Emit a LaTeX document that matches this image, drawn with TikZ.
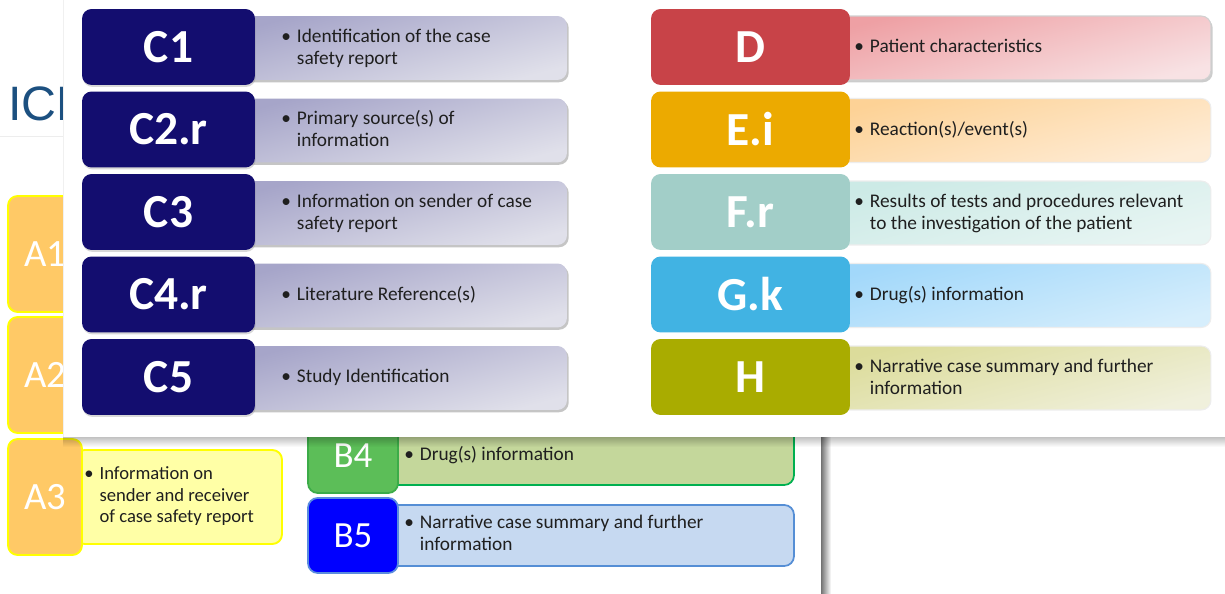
\documentclass[tikz,border=0pt]{standalone}
\usepackage{fontspec}
\setmainfont{Carlito}
\newfontfamily\ichfont{Liberation Sans}
\usetikzlibrary{shadows}

\definecolor{ichblue}{RGB}{28,80,128}
\definecolor{navy}{RGB}{19,13,111}
\definecolor{cbartop}{RGB}{166,165,201}
\definecolor{cbarbot}{RGB}{224,224,234}
\definecolor{dred}{RGB}{200,67,72}
\definecolor{dbartop}{RGB}{238,160,164}
\definecolor{dbarbot}{RGB}{248,226,228}
\definecolor{eorange}{RGB}{236,170,0}
\definecolor{ebartop}{RGB}{253,210,150}
\definecolor{ebarbot}{RGB}{254,236,214}
\definecolor{fteal}{RGB}{162,206,200}
\definecolor{fbartop}{RGB}{204,234,230}
\definecolor{fbarbot}{RGB}{232,245,243}
\definecolor{gblue}{RGB}{65,179,227}
\definecolor{gbartop}{RGB}{162,216,250}
\definecolor{gbarbot}{RGB}{214,238,252}
\definecolor{holive}{RGB}{169,172,0}
\definecolor{hbartop}{RGB}{220,220,155}
\definecolor{hbarbot}{RGB}{240,240,220}
\definecolor{aorange}{RGB}{255,201,102}
\definecolor{ayellow}{RGB}{255,255,0}
\definecolor{apale}{RGB}{255,255,166}
\definecolor{bgreen}{RGB}{92,190,88}
\definecolor{bgreenline}{RGB}{60,172,72}
\definecolor{bgreenbar}{RGB}{196,215,155}
\definecolor{bgreenbarline}{RGB}{0,176,80}
\definecolor{bblue}{RGB}{0,0,255}
\definecolor{bblueline}{RGB}{90,140,222}
\definecolor{bbluebar}{RGB}{198,217,241}
\definecolor{bbluebarline}{RGB}{85,142,213}

\newcommand{\bitem}[1]{%
  \begin{tabular}{@{}l@{\hspace{3.4pt}}l@{}}\textbullet & \begin{tabular}[t]{@{}l@{}}#1\end{tabular}\end{tabular}}

\tikzset{
  letterbox/.style={rounded corners=5.5pt, text=white, inner sep=0pt, minimum height=1.52cm,
    font=\fontsize{27}{27}\selectfont\bfseries},
  cbox/.style={letterbox, fill=navy, minimum width=3.46cm,
    drop shadow={shadow xshift=0.4pt, shadow yshift=-1.1pt, opacity=0.3}},
  rbox/.style={letterbox, minimum width=3.98cm},
  cbar/.style={rounded corners=5.5pt, minimum width=6.54cm, minimum height=1.28cm,
    top color=cbartop, bottom color=cbarbot, shading angle=15,
    drop shadow={shadow xshift=1pt, shadow yshift=-1.3pt, opacity=0.45}},
  rbar/.style={rounded corners=5.5pt, minimum width=7.52cm, minimum height=1.28cm,
    draw=black!7, line width=0.6pt},
  btext/.style={anchor=west, inner sep=0pt, text=black!88, font=\fontsize{11}{12.4}\selectfont},
  abox/.style={rounded corners=5.5pt, fill=aorange, draw=ayellow, line width=1.1pt,
    minimum width=1.48cm, minimum height=2.32cm, text=white, inner sep=0pt,
    font=\fontsize{22}{22}\selectfont},
  abar/.style={rounded corners=5.5pt, fill=apale, draw=ayellow, line width=1.1pt,
    minimum width=4.14cm, minimum height=1.88cm},
  bbox/.style={rounded corners=5.5pt, minimum width=1.8cm, minimum height=1.5cm, text=white,
    inner sep=0pt, line width=1pt, font=\fontsize{21}{21}\selectfont},
  bbar/.style={rounded corners=5.5pt, minimum width=8.18cm, minimum height=1.22cm, line width=1pt}
}

\begin{document}
\begin{tikzpicture}[x=0.02cm, y=-0.02cm]
\useasboundingbox (0,0) rectangle (1225,594);

% slide underneath
\node[anchor=base west, inner sep=0pt, text=ichblue, font=\ichfont\fontsize{27.5}{27.5}\selectfont] (ich) at (8,121) {ICH};
\draw[black!7] (0,136) -- (63,136);

\node[abox] (a1) at (45,254) {A1};
\node[abox] (a2) at (45,375) {A2};
\node[abar] (a3b) at (178.5,497) {};
\node[abox] (a3) at (45,497) {A3};
\node[btext, font=\fontsize{10.6}{12.2}\selectfont] (a3t) at (84,497) {\bitem{Information on\\sender and receiver\\of case safety report}};

\node[bbar, fill=bgreenbar, draw=bgreenbarline] (b4b) at (589.5,454.5) {};
\node[bbox, fill=bgreen, draw=bgreenline] (b4) at (353,455.5) {B4};
\node[btext] (b4t) at (404,456) {\bitem{Drug(s) information}};
\node[bbar, fill=bbluebar, draw=bbluebarline] (b5b) at (589.5,535.5) {};
\node[bbox, fill=bblue, draw=bblueline] (b5) at (353,535.5) {B5};
\node[btext] (b5t) at (404,535.5) {\bitem{Narrative case summary and further\\information}};

\shade[left color=black!55, right color=white] (821,437) rectangle (831,594);

% panel on top
\fill[white] (63,0) rectangle (1225,437);
\draw[black!6] (63,0) -- (63,437);
\foreach \i [evaluate=\i as \o using {0.24-0.024*\i}] in {0,...,9}
  \fill[black, opacity=\o] (63,437+\i) rectangle (1225,438+\i);

% C rows
\node[cbar] (c1b) at (403.5,48) {};
\node[cbox] (c1) at (168.5,47) {C1};
\node[btext] (c1t) at (281,49) {\bitem{Identification of the case\\safety report}};
\node[cbar] (c2b) at (403.5,130.5) {};
\node[cbox] (c2) at (168.5,129.5) {C2.r};
\node[btext] (c2t) at (281,131.5) {\bitem{Primary source(s) of\\information}};
\node[cbar] (c3b) at (403.5,213) {};
\node[cbox] (c3) at (168.5,212) {C3};
\node[btext] (c3t) at (281,214) {\bitem{Information on sender of case\\safety report}};
\node[cbar] (c4b) at (403.5,295.5) {};
\node[cbox] (c4) at (168.5,294.5) {C4.r};
\node[btext] (c4t) at (281,296) {\bitem{Literature Reference(s)}};
\node[cbar] (c5b) at (403.5,378) {};
\node[cbox] (c5) at (168.5,377) {C5};
\node[btext] (c5t) at (281,378.5) {\bitem{Study Identification}};

% D to H rows
\node[rbar, top color=dbartop, bottom color=dbarbot, shading angle=15, draw=black!18,
  drop shadow={shadow xshift=1pt, shadow yshift=-1.3pt, opacity=0.4}] (db) at (1023,48) {};
\node[rbox, fill=dred] (d) at (750.5,47) {D};
\node[btext] (dt) at (854,48.5) {\bitem{Patient characteristics}};
\node[rbar, top color=ebartop, bottom color=ebarbot, shading angle=15] (eb) at (1023,130.5) {};
\node[rbox, fill=eorange] (e) at (750.5,129.5) {E.i};
\node[btext] (et) at (854,131) {\bitem{Reaction(s)/event(s)}};
\node[rbar, top color=fbartop, bottom color=fbarbot, shading angle=15] (fb) at (1023,213) {};
\node[rbox, fill=fteal] (f) at (750.5,212) {F.r};
\node[btext] (ft) at (854,214) {\bitem{Results of tests and procedures relevant\\to the investigation of the patient}};
\node[rbar, top color=gbartop, bottom color=gbarbot, shading angle=15] (gb) at (1023,295.5) {};
\node[rbox, fill=gblue] (g) at (750.5,294.5) {G.k};
\node[btext] (gt) at (854,296) {\bitem{Drug(s) information}};
\node[rbar, top color=hbartop, bottom color=hbarbot, shading angle=15] (hb) at (1023,378) {};
\node[rbox, fill=holive] (h) at (750.5,377) {H};
\node[btext] (ht) at (854,379) {\bitem{Narrative case summary and further\\information}};
\end{tikzpicture}
\end{document}
